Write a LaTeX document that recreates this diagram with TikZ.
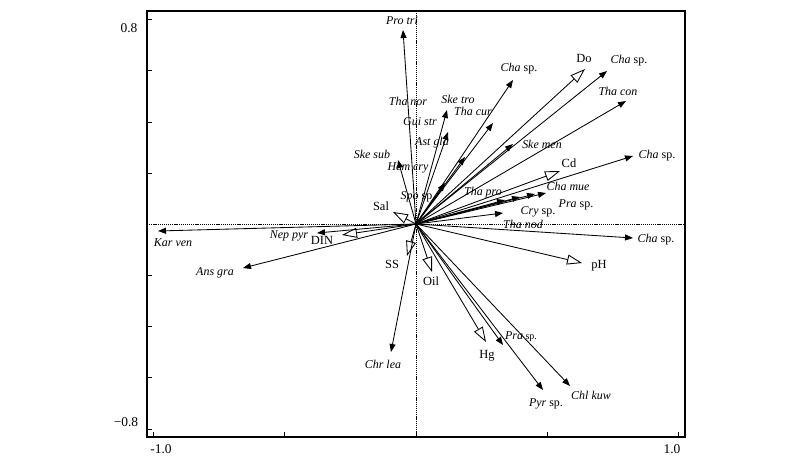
\documentclass[tikz,border=0pt]{standalone}
\usepackage{fontspec}
\setmainfont{Liberation Serif}
\usepackage{xcolor}
\usetikzlibrary{arrows.meta}
\definecolor{frameColor}{HTML}{000000}
\definecolor{axisColor}{HTML}{000000}
\definecolor{speciesColor}{HTML}{000000}
\definecolor{envColor}{HTML}{000000}
\definecolor{labelTextColor}{HTML}{000000}
\tikzset{
  sparrow/.style={color=speciesColor, line width=0.85bp, -{Triangle[length=8bp,width=6bp]}},
  envarrow/.style={color=envColor, line width=0.85bp, -{Triangle[open,length=15bp,width=10bp]}},
  splabel/.style={text=labelTextColor, inner sep=0pt, font=\fontsize{12}{14}\selectfont\itshape},
  envlabel/.style={text=labelTextColor, inner sep=0pt, font=\fontsize{12.5}{14}\selectfont},
  ticklabel/.style={text=labelTextColor, inner sep=0pt, font=\fontsize{13.5}{15}\selectfont},
  dotline/.style={color=axisColor, line width=0.7bp, dash pattern=on 1.2bp off 0.9bp},
  tickmark/.style={color=frameColor, line width=1bp},
}
\def\spp{\textup{ sp.}}

\begin{document}
\begin{tikzpicture}[x=1bp,y=-1bp]
\useasboundingbox (0,0) rectangle (800,465);

% frame
\begin{scope}
\draw[color=frameColor, line width=1.3bp] (147,11) rectangle (685,437);
\end{scope}

% axis layer
\begin{scope}
\draw[dotline] (147,224) -- (685,224);
\draw[dotline] (416,11) -- (416,437);
\draw[tickmark] (147,19.6) -- ++(5,0);
\draw[tickmark] (147,70.9) -- ++(5,0);
\draw[tickmark] (147,122.2) -- ++(5,0);
\draw[tickmark] (147,173.5) -- ++(5,0);
\draw[tickmark] (147,275.3) -- ++(5,0);
\draw[tickmark] (147,326.6) -- ++(5,0);
\draw[tickmark] (147,377.9) -- ++(5,0);
\draw[tickmark] (147,429.2) -- ++(5,0);
\draw[tickmark] (153.5,437) -- ++(0,-5);
\draw[tickmark] (284.7,437) -- ++(0,-5);
\draw[tickmark] (416,437) -- ++(0,-5);
\draw[tickmark] (547.3,437) -- ++(0,-5);
\draw[tickmark] (678.5,437) -- ++(0,-5);
\node[ticklabel] (yTop) at (129,28) {0.8};
\node[ticklabel] (yBot) at (126,422) {−0.8};
\node[ticklabel] (xLeft) at (161,449) {-1.0};
\node[ticklabel] (xRight) at (672,449) {1.0};
\end{scope}

% tips
\coordinate (O) at (416,224);
\coordinate (tipProTri) at (403,30);
\coordinate (tipSkeTro) at (447,110);
\coordinate (tipAstGla) at (448,132);
\coordinate (tipThaCur) at (493,123);
\coordinate (tipChaA) at (513,80);
\coordinate (tipChaB) at (607,71);
\coordinate (tipThaCon) at (626,101);
\coordinate (tipSkeMen) at (513,144);
\coordinate (tipChaC) at (633,156);
\coordinate (tipChaMue) at (546,193);
\coordinate (tipPraA) at (535,194);
\coordinate (tipThaNod) at (520,197);
\coordinate (tipThaPro) at (505,200);
\coordinate (tipCry) at (503,213);
\coordinate (tipChaD) at (633,238);
\coordinate (tipChlKuw) at (570,386);
\coordinate (tipPyr) at (543,390);
\coordinate (tipPraB) at (503,345);
\coordinate (tipChrLea) at (391,352);
\coordinate (tipKarVen) at (158,231);
\coordinate (tipNepPyr) at (317,233);
\coordinate (tipAnsGra) at (243,268);
\coordinate (tipSkeSub) at (398,160);
\coordinate (tipShortA) at (465,157);
\coordinate (tipShortB) at (445,183);
\coordinate (tipDo) at (585,69);
\coordinate (tipCd) at (560,171);
\coordinate (tipPH) at (582,263);
\coordinate (tipHg) at (486,342);
\coordinate (tipOil) at (432,272);
\coordinate (tipSS) at (407,256);
\coordinate (tipSal) at (393,212);
\coordinate (tipDIN) at (342,235);

% link layer
\begin{scope}
\draw[sparrow] (O) -- (tipProTri);
\draw[sparrow] (O) -- (tipSkeTro);
\draw[sparrow] (O) -- (tipAstGla);
\draw[sparrow] (O) -- (tipThaCur);
\draw[sparrow] (O) -- (tipChaA);
\draw[sparrow] (O) -- (tipChaB);
\draw[sparrow] (O) -- (tipThaCon);
\draw[sparrow] (O) -- (tipSkeMen);
\draw[sparrow] (O) -- (tipChaC);
\draw[sparrow] (O) -- (tipChaMue);
\draw[sparrow] (O) -- (tipPraA);
\draw[sparrow] (O) -- (tipThaNod);
\draw[sparrow] (O) -- (tipThaPro);
\draw[sparrow] (O) -- (tipCry);
\draw[sparrow] (O) -- (tipChaD);
\draw[sparrow] (O) -- (tipChlKuw);
\draw[sparrow] (O) -- (tipPyr);
\draw[sparrow] (O) -- (tipPraB);
\draw[sparrow] (O) -- (tipChrLea);
\draw[sparrow] (O) -- (tipKarVen);
\draw[sparrow] (O) -- (tipNepPyr);
\draw[sparrow] (O) -- (tipAnsGra);
\draw[sparrow] (O) -- (tipSkeSub);
\draw[sparrow] (O) -- (tipShortA);
\draw[sparrow] (O) -- (tipShortB);
\draw[envarrow] (O) -- (tipDo);
\draw[envarrow] (O) -- (tipCd);
\draw[envarrow] (O) -- (tipPH);
\draw[envarrow] (O) -- (tipHg);
\draw[envarrow] (O) -- (tipOil);
\draw[envarrow] (O) -- (tipSS);
\draw[envarrow] (O) -- (tipSal);
\draw[envarrow] (O) -- (tipDIN);
\end{scope}

% label layer
\begin{scope}
\node[splabel] (lblProTri) at (402,21) {Pro tri};
\node[splabel] (lblThaNor) at (408,101) {Tha nor};
\node[splabel] (lblSkeTro) at (458,99) {Ske tro};
\node[splabel] (lblThaCur) at (473,111) {Tha cur};
\node[splabel] (lblGuiStr) at (420,122) {Gui str};
\node[splabel] (lblAstGla) at (432,143) {Ast gla};
\node[splabel] (lblSkeSub) at (372,154) {Ske sub};
\node[splabel] (lblHemCry) at (408,168) {Hem cry};
\node[splabel] (lblSpo) at (418,197) {Spo\spp};
\node[splabel] (lblChaA) at (519,69) {Cha\spp};
\node[splabel] (lblChaB) at (629,61) {Cha\spp};
\node[splabel] (lblThaCon) at (618,91) {Tha con};
\node[splabel] (lblSkeMen) at (542,144) {Ske men};
\node[splabel] (lblChaC) at (657,156) {Cha\spp};
\node[splabel] (lblChaMue) at (568,186) {Cha mue};
\node[splabel] (lblThaPro) at (483,193) {Tha pro};
\node[splabel] (lblPraA) at (576,205) {Pra\spp};
\node[splabel] (lblCry) at (538,212) {Cry\spp};
\node[splabel] (lblThaNod) at (523,224) {Tha nod};
\node[splabel] (lblChaD) at (656,240) {Cha\spp};
\node[splabel] (lblKarVen) at (173,243) {Kar ven};
\node[splabel] (lblNepPyr) at (289,236) {Nep pyr};
\node[splabel] (lblAnsGra) at (215,273) {Ans gra};
\node[splabel] (lblChrLea) at (383,364) {Chr lea};
\node[splabel] (lblPraB) at (521,337) {Pra{\fontsize{10}{12}\selectfont\spp}};
\node[splabel] (lblPyr) at (546,404) {Pyr\spp};
\node[splabel] (lblChlKuw) at (591,395) {Chl kuw};
\node[envlabel] (lblDo) at (584,58) {Do};
\node[envlabel] (lblCd) at (569,163) {Cd};
\node[envlabel] (lblPH) at (599,266) {pH};
\node[envlabel] (lblHg) at (487,356) {Hg};
\node[envlabel] (lblOil) at (431,281) {Oil};
\node[envlabel] (lblSS) at (392,264) {SS};
\node[envlabel] (lblSal) at (381,206) {Sal};
\node[envlabel] (lblDIN) at (322,240) {DIN};
\end{scope}
\end{tikzpicture}
\end{document}
